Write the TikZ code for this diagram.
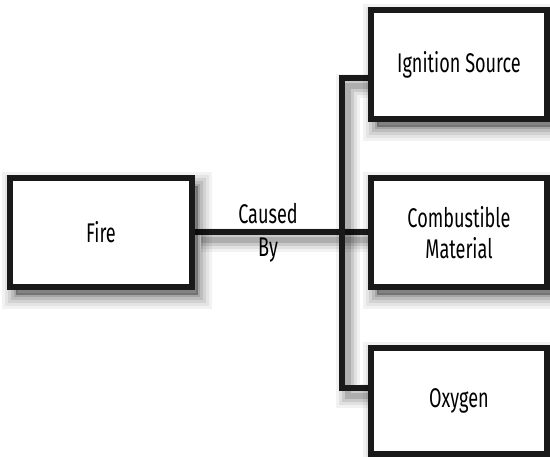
\documentclass[tikz,border=0pt]{standalone}
\usepackage{fontspec}
\setmainfont{Fira Sans}[FakeStretch=0.67]
\usetikzlibrary{backgrounds}
\begin{document}
\begin{tikzpicture}[x=1pt,y=1pt,
  shl/.style n args={2}{preaction={draw=black, draw opacity=#2, line width=#1, fill=none, transform canvas={shift={(6pt,-8pt)}}}},
  softshadow/.style={preaction={fill=black, fill opacity=0.3, draw=none, transform canvas={shift={(6pt,-8pt)}}},
     shl={4pt}{0.12}, shl={10pt}{0.10}, shl={16pt}{0.08}, shl={22pt}{0.06}, shl={28pt}{0.05}},
  box/.style={draw=black!90, line width=6pt, fill=white, minimum width=176pt, minimum height=109pt,
     align=center, font=\fontsize{27}{31}\selectfont, inner sep=0pt, softshadow},
  lineshadow/.style={shl={6pt}{0.14}, shl={12pt}{0.10}, shl={18pt}{0.07}, shl={24pt}{0.05}},
  conn/.style={draw=black!90, line width=6pt, lineshadow},
  lbl/.style={font=\fontsize{27}{33}\selectfont, align=center, inner sep=0pt}]
\useasboundingbox (0,0) rectangle (550,457);
\node[box, minimum width=182pt] (fire) at (101,224.5) {Fire};
\node[box] (ign) at (459,392.5) {Ignition Source};
\node[box] (comb) at (459,224.5) {Combustible\\Material};
\node[box, minimum height=106pt] (oxy) at (459,56) {Oxygen};
\coordinate (top) at (341.5,379);
\coordinate (bot) at (341.5,69);
\begin{scope}[on background layer]
\draw[conn] (fire.east) -- (comb.west);
\draw[conn, line cap=rect] (ign.west |- top) -- (top) -- (bot) -- (bot -| oxy.west);
\end{scope}
\node[lbl] (cb) at (268,224.5) {Caused\\By};
\end{tikzpicture}
\end{document}
